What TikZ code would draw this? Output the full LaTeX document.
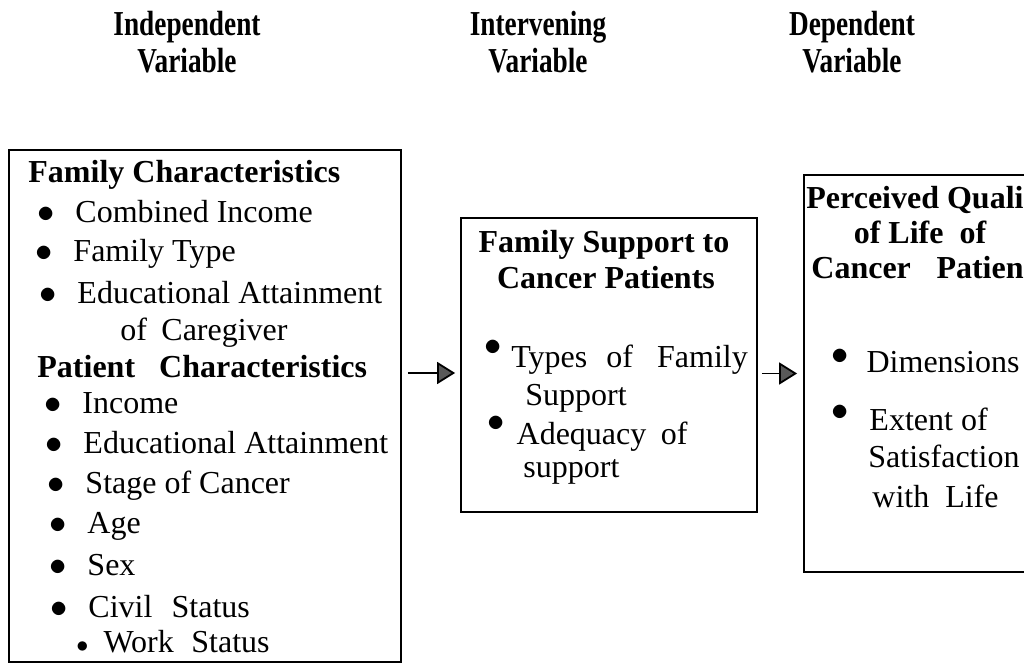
\documentclass[tikz,border=0pt]{standalone}
\usepackage{fontspec}
\setmainfont{Liberation Serif}
\newfontfamily\headfont[FakeStretch=0.78]{Liberation Serif}
\usetikzlibrary{arrows.meta}
\usetikzlibrary{positioning}

\newcommand{\blt}{$\bullet$\hspace{0.65em}}
\newcommand{\rblt}[2]{\raisebox{#1}{$\bullet$}\hspace{#2}}

\begin{document}
\begin{tikzpicture}[x=0.5pt,y=-0.5pt,
        box/.style={draw,line width=0.9pt,inner sep=0pt},
        hd/.style={font=\headfont\bfseries\fontsize{17.5}{18.5}\selectfont,align=center,inner sep=0pt},
        ttl/.style={font=\bfseries\fontsize{16}{17.5}\selectfont,inner sep=0pt},
        itm/.style={font=\fontsize{16}{20}\selectfont,anchor=base west,inner sep=0pt},
        arr/.style={line width=0.9pt,-{Triangle[length=9pt,width=11pt,fill=black!65]}}]

        \useasboundingbox (0,0) rectangle (1024,670);
        \clip (0,0) rectangle (1024,670);

        % headings
        \node[hd] (ivar) at (187,42) {Independent\\Variable};
        \node[hd] (mvar) at (538,42) {Intervening\\Variable};
        \node[hd] (dvar) at (852,42) {Dependent\\Variable};

        % boxes
        \node[box, minimum width=196pt, minimum height=256pt] (indep) at (205,406) {};
        \node[box, minimum width=148pt, minimum height=147pt] (mid) at (609,365) {};
        \node[box, minimum width=128pt, minimum height=198.5pt] (dep) at (932,373.5) {};

        % independent variable
        \node[ttl, anchor=base west] (fc) at (28,182) {Family Characteristics};
        \node[itm] (fc1) at (37,222) {\blt Combined Income};
        \node[itm] (fc2) at (35,261) {\blt Family Type};
        \node[itm] (fc3) at (39,303) {\blt Educational Attainment};
        \node[itm] (fc4) at (120,340) {of\hspace{0.45em}Caregiver};
        \node[ttl, anchor=base west] (pc) at (37,377) {Patient\hspace{0.75em}Characteristics};
        \node[itm] (pc1) at (44,413) {\blt Income};
        \node[itm] (pc2) at (45,453) {\blt Educational Attainment};
        \node[itm] (pc3) at (47,493) {\blt Stage of Cancer};
        \node[itm] (pc4) at (49,533) {\blt Age};
        \node[itm] (pc5) at (49,575) {\blt Sex};
        \node[itm] (pc6) at (50,617) {\blt Civil\hspace{0.6em}Status};
        \node[itm] (pc7) at (76,652) {\scalebox{0.7}{$\bullet$}\hspace{0.47em}Work\hspace{0.55em}Status};

        % intervening variable
        \node[ttl, anchor=base] (fs1) at (604,252) {Family Support to};
        \node[ttl, anchor=base] (fs2) at (606,288) {Cancer Patients};
        \node[itm] (fs3) at (484,367) {\rblt{0.375em}{0.3em}Types\hspace{0.6em}of\hspace{0.75em}Family};
        \node[itm] (fs4) at (525,405) {Support};
        \node[itm] (fs5) at (487,444) {\rblt{0.4em}{0.375em}Adequacy\hspace{0.45em}of};
        \node[itm] (fs6) at (523,477) {support};

        % dependent variable
        \node[ttl, anchor=base west] (ql1) at (806,208) {Perceived Quality};
        \node[ttl, anchor=base] (ql2) at (920,243) {of Life\hspace{0.5em}of};
        \node[ttl, anchor=base west] (ql3) at (811,278) {Cancer\hspace{0.8em}Patients};
        \node[itm] (ql4) at (831,372) {\rblt{0.25em}{0.56em}Dimensions};
        \node[itm] (ql5) at (831,430) {\rblt{0.31em}{0.65em}Extent of};
        \node[itm] (ql6) at (868,467) {Satisfaction};
        \node[itm] (ql7) at (872,507) {with\hspace{0.5em}Life};

        \coordinate (a1) at ([yshift=-4pt]mid.west);

        \path[arr]
          (indep.east |- a1) edge [shorten <=3pt, shorten >=2.5pt] (a1)
          (mid.east |- dep.west) edge [shorten <=2pt, shorten >=3pt] (dep.west);

      \end{tikzpicture}
\end{document}
